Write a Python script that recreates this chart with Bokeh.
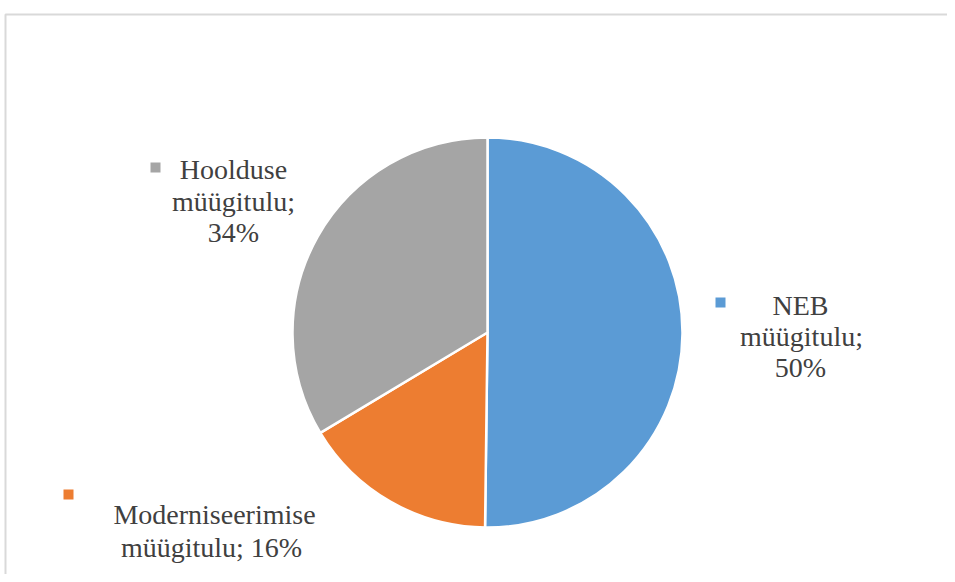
import math
from bokeh.plotting import figure
from bokeh.models import Range1d
from bokeh.core.properties import value
from bokeh.embed import file_html
from bokeh.resources import INLINE

# ---- data ----
categories = ["NEB", "Moderniseerimise", "Hoolduse"]
values = [50.2, 16.2, 33.6]
pct_labels = ["50%", "16%", "34%"]
colors = ["#5B9BD5", "#ED7D31", "#A5A5A5"]
label_lines = [
    ["NEB", "müügitulu;", "50%"],
    ["Moderniseerimise", "müügitulu; 16%"],
    ["Hoolduse", "müügitulu;", "34%"],
]

# ---- layout (picture pixel coordinates; y is negated) ----
W, H = 947, 574
p = figure(width=W, height=H, output_backend="svg", toolbar_location=None,
           x_range=Range1d(0, W), y_range=Range1d(-H, 0),
           min_border=0, outline_line_color=None)
p.axis.visible = False
p.grid.visible = False
p.background_fill_color = "white"
p.border_fill_color = "white"

# chart frame (light gray border)
p.line(x=[5, 5, 960], y=[-600, -14, -14], line_color="#D9D9D9", line_width=2)

cx, cy, r = 487, -332, 195
total = sum(values)
start = math.pi / 2
starts, ends = [], []
for v in values:
    a = 2 * math.pi * v / total
    starts.append(start)
    ends.append(start - a)
    start -= a

p.wedge(x=[cx] * 3, y=[cy] * 3, radius=r, start_angle=starts, end_angle=ends,
        direction="clock", fill_color=colors, line_color="white", line_width=2.5)

# labels
font = value("Liberation Serif")
label_pos = [
    # (marker x, marker y, [(line x, line y), ...])
    (720, 302, [(800, 305), (801, 336), (800, 367)]),
    (68, 494, [(214, 514), (211, 547)]),
    (155, 167, [(233, 169), (233, 201), (233, 232)]),
]
for i, (mx, my, lines) in enumerate(label_pos):
    p.scatter(x=[mx], y=[-my], marker="square", size=10,
              fill_color=colors[i], line_color=None)
    p.text(x=[lx for lx, ly in lines], y=[-ly for lx, ly in lines],
           text=label_lines[i], text_font=font, text_font_size="28px",
           text_color="#404040", text_align="center", text_baseline="middle")

open("out.html", "w").write(file_html(p, INLINE))
